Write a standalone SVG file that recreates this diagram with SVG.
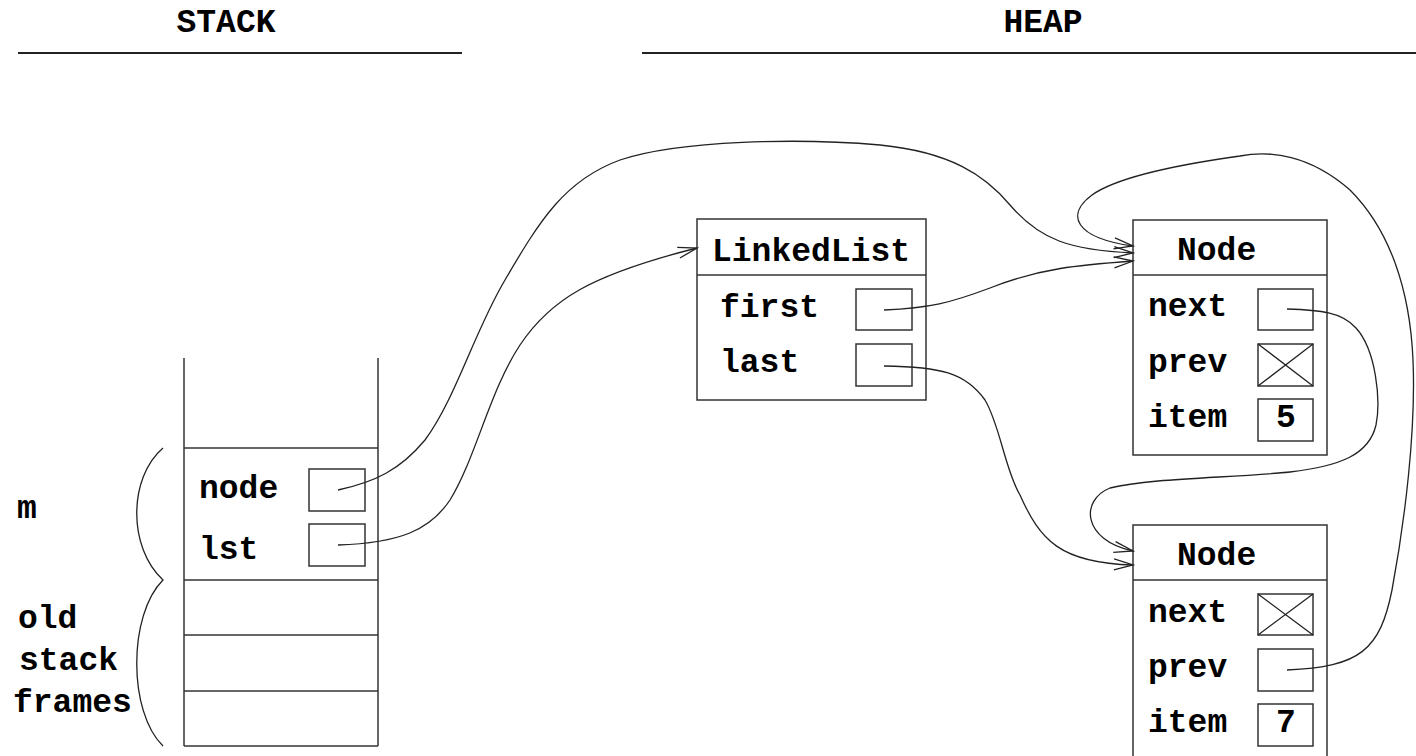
<svg xmlns="http://www.w3.org/2000/svg" width="1416" height="756" viewBox="0 0 1416 756">
<style>
text{font-family:"Liberation Mono","Courier New",monospace;font-weight:bold;font-size:33px;fill:#000}
.box{fill:none;stroke:#333;stroke-width:1.5}
.rule{stroke:#222;stroke-width:2}
.ln{fill:none;stroke:#222;stroke-width:1.3}
.arr{fill:none;stroke:#222;stroke-width:1.3;marker-end:url(#ah)}
</style>
<defs>
<marker id="ah" markerUnits="userSpaceOnUse" markerWidth="24" markerHeight="16" refX="0" refY="0" viewBox="-20 -8 24 16" orient="auto" overflow="visible">
<path d="M-19,-5.5 L0,0 L-19,5.5" fill="none" stroke="#222" stroke-width="1.3"/>
</marker>
</defs>
<rect width="1416" height="756" fill="#fff"/>

<g id="headers">
<text x="226" y="32" text-anchor="middle">STACK</text>
<line class="rule" x1="18" y1="53" x2="462" y2="53"/>
<text x="1043" y="32" text-anchor="middle">HEAP</text>
<line class="rule" x1="642" y1="53" x2="1416" y2="53"/>
</g>

<g id="stack">
<line class="box" x1="184" y1="358" x2="184" y2="746"/>
<line class="box" x1="378" y1="358" x2="378" y2="746"/>
<line class="box" x1="184" y1="448" x2="378" y2="448"/>
<line class="box" x1="184" y1="580" x2="378" y2="580"/>
<line class="box" x1="184" y1="635" x2="378" y2="635"/>
<line class="box" x1="184" y1="691" x2="378" y2="691"/>
<line class="box" x1="184" y1="746" x2="378" y2="746"/>
<text x="199" y="498">node</text>
<rect class="box" x="309" y="469" width="56" height="42"/>
<text x="199" y="559">lst</text>
<rect class="box" x="309" y="524" width="56" height="42"/>
</g>

<g id="frame-labels">
<path class="ln" d="M163,448 C128,478 128,548 163,580 C128,615 128,712 163,746"/>
<text x="17" y="518">m</text>
<text x="18" y="628">old</text>
<text x="19" y="670">stack</text>
<text x="13" y="712">frames</text>
</g>

<g id="linkedlist">
<rect class="box" x="697" y="219" width="229" height="181"/>
<line class="box" x1="697" y1="275" x2="926" y2="275"/>
<text x="712" y="261">LinkedList</text>
<text x="720" y="317">first</text>
<rect class="box" x="856" y="289" width="56" height="41"/>
<text x="720" y="372">last</text>
<rect class="box" x="856" y="344" width="56" height="42"/>
</g>

<g id="node1">
<rect class="box" x="1133" y="220" width="194" height="235"/>
<line class="box" x1="1133" y1="275" x2="1327" y2="275"/>
<text x="1177" y="260">Node</text>
<text x="1148" y="316">next</text>
<rect class="box" x="1258" y="289" width="55" height="41"/>
<text x="1148" y="372">prev</text>
<rect class="box" x="1258" y="344" width="55" height="42"/>
<path class="ln" d="M1258,344 L1313,386 M1313,344 L1258,386"/>
<text x="1148" y="427">item</text>
<rect class="box" x="1258" y="399" width="55" height="42"/>
<text x="1286" y="427" text-anchor="middle">5</text>
</g>

<g id="node2">
<rect class="box" x="1133" y="525" width="194" height="260"/>
<line class="box" x1="1133" y1="580" x2="1327" y2="580"/>
<text x="1177" y="565">Node</text>
<text x="1148" y="622">next</text>
<rect class="box" x="1258" y="594" width="55" height="41"/>
<path class="ln" d="M1258,594 L1313,635 M1313,594 L1258,635"/>
<text x="1148" y="677">prev</text>
<rect class="box" x="1258" y="649" width="55" height="42"/>
<text x="1148" y="732">item</text>
<rect class="box" x="1258" y="704" width="55" height="42"/>
<text x="1286" y="732" text-anchor="middle">7</text>
</g>

<g id="connectors">
<path class="arr" d="M338,490 C375,482 400,470 425,440 C455,400 475,330 505,280 C540,220 565,180 620,160 C680,140 800,138 880,145 C950,152 985,175 1010,205 C1040,240 1070,250 1133,253"/>
<path class="arr" d="M338,545 C400,543 430,530 450,500 C475,460 490,390 520,345 C550,300 590,275 697,248"/>
<path class="arr" d="M884,310 C930,308 950,303 990,288 C1040,268 1080,265 1133,261"/>
<path class="arr" d="M884,366 C940,367 965,372 985,400 C1000,425 1005,470 1020,495 C1040,540 1060,563 1133,565"/>
<path class="arr" d="M1287,309 C1320,310 1342,312 1356,328 C1376,350 1381,400 1376,425 C1369,455 1340,466 1290,472 C1230,478 1150,478 1110,488 C1080,500 1082,540 1133,551"/>
<path class="arr" d="M1287,670 C1360,667 1380,650 1392,590 C1405,520 1416,430 1413,360 C1410,290 1390,230 1350,190 C1310,155 1270,150 1240,156 C1190,163 1120,175 1092,195 C1065,215 1075,238 1133,246"/>
</g>
</svg>
